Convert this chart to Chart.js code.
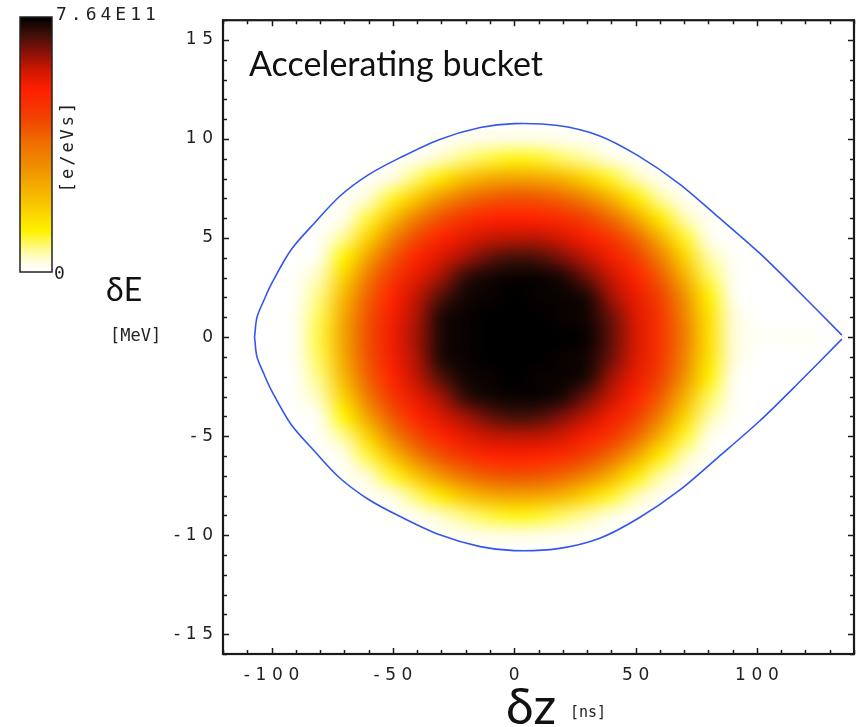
<!DOCTYPE html>
<html>
<head>
<meta charset="utf-8">
<script src="https://cdn.jsdelivr.net/npm/chart.js@4.4.1/dist/chart.umd.min.js"></script>
<style>html,body{margin:0;background:#fff}</style>
</head>
<body>
<canvas id="c" width="860" height="727"></canvas>
<script>
// grid of the density picture: columns are dz [ns], rows are dE [MeV]
var dzNs = [-100, -90, -80, -70, -60, -50, -40, -30, -20, -10, 0, 10, 20, 30, 40, 50, 60, 70, 80, 90, 100, 110, 120];
var dEMeV = [10, 9, 8, 7, 6, 5, 4, 3, 2, 1, 0, -1, -2, -3, -4, -5, -6, -7, -8, -9, -10];
// density in % of 7.64E11 e/eVs
var density = [
  [0,0,0,0,0,0,0,1,2,3,3,3,2,1,0,0,0,0,0,0,0,0,0],
  [0,0,0,0,0,1,2,6,10,13,15,14,11,8,4,1,0,0,0,0,0,0,0],
  [0,0,0,0,1,4,11,19,28,34,36,35,31,23,14,7,2,0,0,0,0,0,0],
  [0,0,0,1,5,14,27,40,50,55,57,56,52,44,32,18,8,2,0,0,0,0,0],
  [0,0,0,3,13,29,46,57,65,70,71,70,67,60,51,35,18,7,1,0,0,0,0],
  [0,0,1,9,24,45,59,70,76,80,81,81,78,72,64,52,33,14,3,0,0,0,0],
  [0,0,3,16,37,56,70,78,84,90,93,92,87,81,73,62,46,24,8,1,0,0,0],
  [0,1,7,24,48,64,76,84,95,98,99,99,97,89,80,70,55,33,12,2,0,0,0],
  [0,1,10,31,54,70,81,92,98,99,100,99,99,97,84,75,61,41,17,3,0,0,0],
  [0,2,12,35,57,73,83,97,99,100,100,100,99,98,89,77,64,45,20,5,0,0,0],
  [0,2,13,36,58,74,84,97,99,100,100,100,100,99,90,78,65,47,21,5,1,1,1],
  [0,2,12,35,57,73,83,97,99,100,100,100,99,98,89,77,64,45,20,5,0,0,0],
  [0,1,10,31,54,70,81,92,98,99,100,99,99,97,84,75,61,41,17,3,0,0,0],
  [0,1,7,24,48,64,76,84,95,98,99,99,97,89,80,70,55,33,12,2,0,0,0],
  [0,0,3,16,37,56,70,78,84,90,93,92,87,81,73,62,46,24,8,1,0,0,0],
  [0,0,1,9,24,45,59,70,76,80,81,81,78,72,64,52,33,14,3,0,0,0,0],
  [0,0,0,3,13,29,46,57,65,70,71,70,67,60,51,35,18,7,1,0,0,0,0],
  [0,0,0,1,5,14,27,40,50,55,57,56,52,44,32,18,8,2,0,0,0,0,0],
  [0,0,0,0,1,4,11,19,28,34,36,35,31,23,14,7,2,0,0,0,0,0,0],
  [0,0,0,0,0,1,2,6,10,13,15,14,11,8,4,1,0,0,0,0,0,0,0],
  [0,0,0,0,0,0,0,1,2,3,3,3,2,1,0,0,0,0,0,0,0,0,0]
];

// separatrix of the bucket
var sepZ = [-107, -106, -103, -100, -92, -82, -72, -60, -47, -31, -14, 0, 18, 35, 51, 68, 84, 101, 117, 135];
var sepUpperE = [0, 1.0, 1.9, 2.7, 4.4, 5.8, 7.1, 8.2, 9.06, 9.97, 10.58, 10.78, 10.68, 10.17, 9.16, 7.74, 6.07, 4.25, 2.33, 0.1];
var sepLowerE = [0, -1.0, -1.9, -2.7, -4.4, -5.8, -7.1, -8.2, -9.06, -9.97, -10.58, -10.78, -10.68, -10.17, -9.16, -7.74, -6.07, -4.25, -2.33, -0.1];

var xTicks = [-100, -50, 0, 50, 100];
var yTicks = [-15, -10, -5, 0, 5, 10, 15];

var cmap = [
  [0, '#ffffff'], [0.04, '#fffde0'], [0.09, '#fffa90'], [0.16, '#fff200'],
  [0.28, '#f8c000'], [0.41, '#f09000'], [0.5, '#f07000'], [0.61, '#f04000'],
  [0.71, '#ff2000'], [0.79, '#d01800'], [0.87, '#801008'], [0.93, '#401008'],
  [1, '#000000']
];

function hexRgb(h) {
  return [parseInt(h.substr(1, 2), 16), parseInt(h.substr(3, 2), 16), parseInt(h.substr(5, 2), 16)];
}

function colorAt(t) {
  t = Math.max(0, Math.min(1, t));
  for (var i = 1; i < cmap.length; i++) {
    if (t <= cmap[i][0]) {
      var a = hexRgb(cmap[i - 1][1]), b = hexRgb(cmap[i][1]);
      var f = (t - cmap[i - 1][0]) / (cmap[i][0] - cmap[i - 1][0]);
      return [0, 1, 2].map(function (k) { return Math.round(a[k] + (b[k] - a[k]) * f); });
    }
  }
  return [0, 0, 0];
}

function pairs(xs, ys) {
  return xs.map(function (v, i) { return {x: v, y: ys[i]}; });
}

var heatmap = {
  id: 'heatmap',
  beforeDatasetsDraw: function (chart) {
    var ctx = chart.ctx, a = chart.chartArea, x = chart.scales.x, y = chart.scales.y;
    var off = document.createElement('canvas');
    off.width = dzNs.length;
    off.height = dEMeV.length;
    var octx = off.getContext('2d');
    var img = octx.createImageData(off.width, off.height);
    for (var r = 0; r < dEMeV.length; r++) {
      for (var c = 0; c < dzNs.length; c++) {
        var rgb = colorAt(density[r][c] / 100);
        var p = (r * off.width + c) * 4;
        img.data[p] = rgb[0]; img.data[p + 1] = rgb[1]; img.data[p + 2] = rgb[2]; img.data[p + 3] = 255;
      }
    }
    octx.putImageData(img, 0, 0);
    var x0 = x.getPixelForValue(dzNs[0] - 5), x1 = x.getPixelForValue(dzNs[dzNs.length - 1] + 5);
    var y0 = y.getPixelForValue(dEMeV[0] + 0.5), y1 = y.getPixelForValue(dEMeV[dEMeV.length - 1] - 0.5);
    ctx.save();
    ctx.beginPath();
    ctx.rect(a.left, a.top, a.right - a.left, a.bottom - a.top);
    ctx.clip();
    ctx.imageSmoothingEnabled = true;
    ctx.imageSmoothingQuality = 'high';
    ctx.drawImage(off, x0, y0, x1 - x0, y1 - y0);
    ctx.restore();
  }
};

var frame = {
  id: 'frame',
  afterDatasetsDraw: function (chart) {
    var ctx = chart.ctx, a = chart.chartArea, x = chart.scales.x, y = chart.scales.y;
    ctx.save();
    ctx.strokeStyle = '#1a1a1a';
    ctx.lineWidth = 1.5;
    ctx.beginPath();
    for (var v = -120; v <= 140; v += 10) {
      var px = Math.round(x.getPixelForValue(v)) + 0.5;
      var len = v % 50 === 0 ? 6 : 4;
      ctx.moveTo(px, a.bottom); ctx.lineTo(px, a.bottom - len);
      ctx.moveTo(px, a.top); ctx.lineTo(px, a.top + len);
    }
    for (var w = -16; w <= 16; w += 1) {
      var py = Math.round(y.getPixelForValue(w)) + 0.5;
      var l2 = w % 5 === 0 ? 6 : 4;
      ctx.moveTo(a.left, py); ctx.lineTo(a.left + l2, py);
      ctx.moveTo(a.right, py); ctx.lineTo(a.right - l2, py);
    }
    ctx.stroke();
    ctx.lineWidth = 2.2;
    ctx.strokeRect(a.left, a.top, a.right - a.left, a.bottom - a.top);
    ctx.restore();
  },
  afterDraw: function (chart) {
    var ctx = chart.ctx;
    ctx.save();
    // colour bar
    var g = ctx.createLinearGradient(0, 272, 0, 17);
    cmap.forEach(function (s) { g.addColorStop(s[0], s[1]); });
    ctx.fillStyle = g;
    ctx.fillRect(20, 17, 32, 255);
    ctx.strokeStyle = '#222';
    ctx.lineWidth = 1.5;
    ctx.strokeRect(20, 17, 32, 255);

    ctx.fillStyle = '#222';
    ctx.letterSpacing = '4px';
    ctx.font = '18px "DejaVu Sans Mono"';
    ctx.textBaseline = 'middle';
    ctx.textAlign = 'left';
    ctx.fillText('7.64E11', 56, 15);
    ctx.fillText('0', 54, 274);
    ctx.save();
    ctx.translate(69, 146);
    ctx.rotate(-Math.PI / 2);
    ctx.textAlign = 'center';
    ctx.letterSpacing = '3px';
    ctx.font = '17px "DejaVu Sans Mono"';
    ctx.fillText('[e/eVs]', 0, 0);
    ctx.restore();

    ctx.letterSpacing = '0px';
    ctx.fillStyle = '#111';
    ctx.textBaseline = 'alphabetic';
    ctx.font = '34px Lato';
    ctx.fillText('Accelerating bucket', 249, 76);
    ctx.font = '32px Lato';
    ctx.fillText('δE', 106, 301);
    ctx.font = '50px Lato';
    ctx.fillText('δz', 506, 724);
    ctx.fillStyle = '#222';
    ctx.font = '17px "DejaVu Sans Mono"';
    ctx.fillText('[MeV]', 110, 341);
    ctx.font = '15px "DejaVu Sans Mono"';
    ctx.fillText('[ns]', 570, 717);
    ctx.restore();
  }
};

function spaced(v) {
  return String(v).split('').join('\u2004');
}

new Chart(document.getElementById('c'), {
  type: 'scatter',
  data: {
    datasets: [{
      data: pairs(sepZ, sepUpperE),
      showLine: true,
      borderColor: '#3456ee',
      borderWidth: 1.6,
      pointRadius: 0,
      tension: 0.3
    }, {
      data: pairs(sepZ, sepLowerE),
      showLine: true,
      borderColor: '#3456ee',
      borderWidth: 1.6,
      pointRadius: 0,
      tension: 0.3
    }]
  },
  options: {
    responsive: false,
    animation: false,
    layout: {padding: {left: 0, right: 6, top: 19, bottom: 0}},
    plugins: {legend: {display: false}, tooltip: {enabled: false}},
    scales: {
      x: {
        type: 'linear',
        min: -120,
        max: 140,
        grid: {display: false, drawTicks: false},
        border: {display: false},
        afterBuildTicks: function (s) { s.ticks = xTicks.map(function (v) { return {value: v}; }); },
        afterFit: function (s) { s.height = 73; },
        ticks: {
          padding: 11,
          maxRotation: 0,
          color: '#222',
          font: {family: 'DejaVu Sans', size: 17},
          callback: spaced
        }
      },
      y: {
        type: 'linear',
        min: -16,
        max: 16,
        grid: {display: false, drawTicks: false},
        border: {display: false},
        afterBuildTicks: function (s) { s.ticks = yTicks.map(function (v) { return {value: v}; }); },
        afterFit: function (s) { s.width = 223; },
        ticks: {
          padding: 10,
          color: '#222',
          font: {family: 'DejaVu Sans', size: 17},
          callback: spaced
        }
      }
    }
  },
  plugins: [heatmap, frame]
});
</script>
</body>
</html>
